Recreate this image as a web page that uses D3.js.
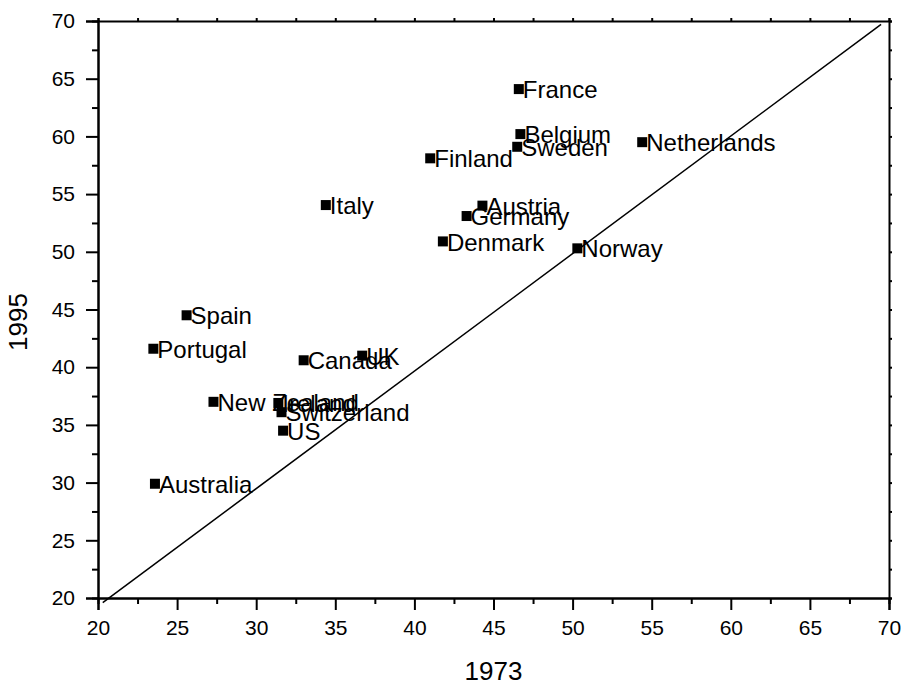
<!DOCTYPE html>
<html>
<head>
<meta charset="utf-8">
<script src="https://cdn.jsdelivr.net/npm/d3@7"></script>
<style>
  html, body { margin: 0; padding: 0; background: #fff; }
  svg text { font-family: "Liberation Sans", Arial, sans-serif; fill: #000; }
</style>
</head>
<body>
<svg id="chart" width="905" height="687"></svg>
<script>
const countries = ["France","Belgium","Sweden","Netherlands","Finland","Italy","Austria","Germany","Denmark","Norway","Spain","Portugal","Canada","UK","New Zealand","Ireland","Switzerland","US","Australia"];
const v1973 = [46.6, 46.7, 46.5, 54.4, 41.0, 34.4, 44.3, 43.3, 41.8, 50.3, 25.6, 23.5, 33.0, 36.7, 27.3, 31.4, 31.6, 31.7, 23.6];
const v1995 = [64.1, 60.2, 59.1, 59.5, 58.1, 54.05, 54.0, 53.1, 50.9, 50.3, 44.5, 41.6, 40.6, 41.0, 37.0, 36.9, 36.1, 34.5, 29.9];
const refLine = [[20.3, 19.6], [69.5, 69.7]];
const majorTicks = [20, 25, 30, 35, 40, 45, 50, 55, 60, 65, 70];
const minorTicks = [22.5, 27.5, 32.5, 37.5, 42.5, 47.5, 52.5, 57.5, 62.5, 67.5];
const xTitle = "1973";
const yTitle = "1995";

const svg = d3.select("#chart");
const L = 98, R = 889, T = 21, B = 598;
const x = d3.scaleLinear().domain([20, 70]).range([L, R]);
const y = d3.scaleLinear().domain([20, 70]).range([B, T]);

// bottom axis
const gB = svg.append("g").attr("transform", `translate(0,${B})`);
gB.call(d3.axisBottom(x).tickValues(majorTicks).tickSize(12).tickPadding(10).tickFormat(d3.format("d")));
gB.append("g").call(d3.axisBottom(x).tickValues(minorTicks).tickSize(6).tickFormat(""));
// left axis
const gL = svg.append("g").attr("transform", `translate(${L},0)`);
gL.call(d3.axisLeft(y).tickValues(majorTicks).tickSize(12).tickPadding(11).tickFormat(d3.format("d")));
gL.append("g").call(d3.axisLeft(y).tickValues(minorTicks).tickSize(6).tickFormat(""));
// top axis (mirror)
const gT = svg.append("g").attr("transform", `translate(0,${T})`);
gT.call(d3.axisTop(x).tickValues(majorTicks.concat(minorTicks)).tickSize(3).tickFormat(""));
// right axis (mirror)
const gR = svg.append("g").attr("transform", `translate(${R},0)`);
gR.call(d3.axisRight(y).tickValues(majorTicks.concat(minorTicks)).tickSize(3).tickFormat(""));

svg.selectAll(".domain").attr("stroke", "#000").attr("stroke-width", 2);
svg.selectAll(".tick line").attr("stroke", "#000").attr("stroke-width", 2);
svg.selectAll(".tick text").style("font-size", "21px").style("font-family", "'Liberation Sans', Arial, sans-serif");

// reference line
svg.append("line")
  .attr("x1", x(refLine[0][0])).attr("y1", y(refLine[0][1]))
  .attr("x2", x(refLine[1][0])).attr("y2", y(refLine[1][1]))
  .attr("stroke", "#000").attr("stroke-width", 1.5);

// points
const data = countries.map((c, i) => ({c, a: v1973[i], b: v1995[i]}));
const s = 10;
svg.append("g").selectAll("rect").data(data).join("rect")
  .attr("x", d => x(d.a) - s / 2).attr("y", d => y(d.b) - s / 2)
  .attr("width", s).attr("height", s).attr("fill", "#000");
svg.append("g").selectAll("text").data(data).join("text")
  .attr("x", d => x(d.a) + 4).attr("y", d => y(d.b))
  .attr("dy", "0.38em")
  .style("font-size", "24px")
  .text(d => d.c);

// axis titles
svg.append("text").attr("x", (L + R) / 2).attr("y", 680)
  .attr("text-anchor", "middle").style("font-size", "26px").text(xTitle);
svg.append("text").attr("transform", `translate(27,${322}) rotate(-90)`)
  .attr("text-anchor", "middle").style("font-size", "26px").text(yTitle);
</script>
</body>
</html>
